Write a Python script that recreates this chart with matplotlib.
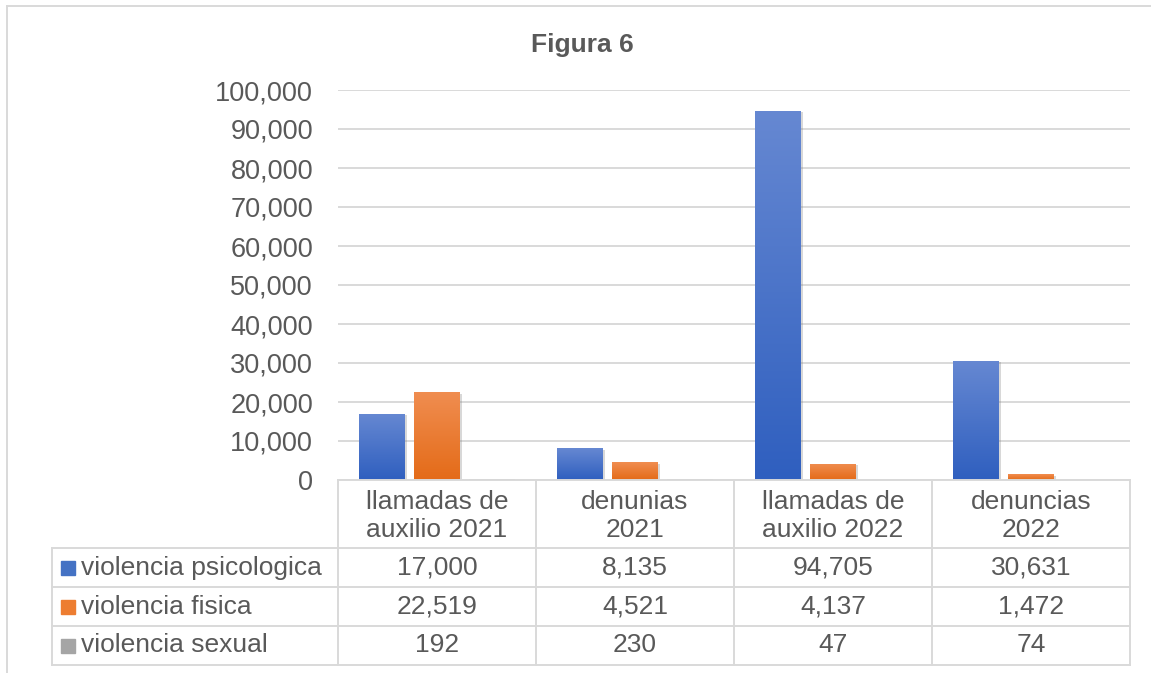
import numpy as np
import matplotlib
matplotlib.use("Agg")
import matplotlib.pyplot as plt
import matplotlib.patheffects as pe
from matplotlib.colors import LinearSegmentedColormap
from matplotlib.lines import Line2D
from matplotlib.patches import Rectangle
from matplotlib.ticker import FuncFormatter, MultipleLocator

plt.rcParams['font.family'] = ['Liberation Sans', 'DejaVu Sans']

# data
categories = ["llamadas de\nauxilio 2021", "denunias\n2021",
              "llamadas de\nauxilio 2022", "denuncias\n2022"]
series_names = ["violencia psicologica", "violencia fisica", "violencia sexual"]
psicologica = [17000, 8135, 94705, 30631]
fisica = [22519, 4521, 4137, 1472]
sexual = [192, 230, 47, 74]

series = [psicologica, fisica, sexual]
colors = ["#4472C4", "#ED7D31", "#A5A5A5"]
grad_colors = [("#2f5fbf", "#6688d2"), ("#e46b18", "#f08d50"), ("#8f8f8f", "#bdbdbd")]
text_color = "#595959"
line_color = "#d9d9d9"
fs = 19

W, H = 1151, 673
fig = plt.figure(figsize=(W / 100, H / 100), dpi=100)

# plot area (pixel layout of the original)
x0, x1, y_top, y_base = 338, 1130, 90, 480
ax = fig.add_axes([x0 / W, 1 - y_base / H, (x1 - x0) / W, (y_base - y_top) / H])

x = np.arange(len(categories))
bw, step = 0.228, 0.278
shadow = [pe.SimplePatchShadow(offset=(1.5, -1), shadow_rgbFace="#808080", alpha=0.3), pe.Normal()]
for i, vals in enumerate(series):
    bars = ax.bar(x + (i - 1) * step, vals, bw, color=colors[i], zorder=3)
    cmap = LinearSegmentedColormap.from_list("g%d" % i, grad_colors[i])
    for b in bars:
        b.set_path_effects(shadow)
        bx, by = b.get_x(), b.get_y()
        w, h = b.get_width(), b.get_height()
        grad = np.linspace(0, 1, 128).reshape(-1, 1)
        im = ax.imshow(grad, extent=[bx, bx + w, by, by + h], origin="lower",
                       aspect="auto", cmap=cmap, zorder=4)
        im.set_clip_path(b)

ax.set_xlim(-0.5, len(categories) - 0.5)
ax.set_ylim(0, 100000)
ax.yaxis.set_major_locator(MultipleLocator(10000))
ax.yaxis.set_major_formatter(FuncFormatter(lambda v, p: f"{v:,.0f}"))
ax.grid(axis="y", color=line_color, linewidth=1.4, zorder=0)
ax.set_xticks([])
ax.tick_params(axis="y", length=0, pad=18, labelsize=19.5, labelcolor=text_color)
for s in ["top", "right", "left"]:
    ax.spines[s].set_visible(False)
ax.spines["bottom"].set_color(line_color)
ax.spines["bottom"].set_linewidth(1.4)
ax.spines["bottom"].set_zorder(5)

# data table under the plot
tl, tb = 52, 665
col_w = (x1 - x0) / len(categories)
xl = -0.5 - (x0 - tl) / col_w
tax = fig.add_axes([tl / W, 1 - tb / H, (x1 - tl) / W, (tb - y_base) / H])
tax.set_xlim(xl, len(categories) - 0.5)
tax.set_ylim(tb - y_base, 0)
tax.axis("off")

head_h, row_h = 68, 39
row_lines = [head_h + k * row_h for k in range(len(series) + 1)]
for k in range(len(categories) + 1):
    tax.plot([k - 0.5, k - 0.5], [0, row_lines[-1]], color=line_color, lw=1.4, clip_on=False)
tax.plot([xl, xl], [head_h, row_lines[-1]], color=line_color, lw=1.4, clip_on=False)
for yy in row_lines:
    tax.plot([xl, len(categories) - 0.5], [yy, yy], color=line_color, lw=1.4, clip_on=False)

for j, cat in enumerate(categories):
    tax.text(j, head_h / 2 + 2, cat, ha="center", va="center", fontsize=fs,
             color=text_color, linespacing=1.25)

px = 1 / col_w
for i, (name, vals) in enumerate(zip(series_names, series)):
    yc = head_h + (i + 0.5) * row_h
    tax.add_patch(Rectangle((xl + 9 * px, yc - 7), 14 * px, 14, color=colors[i], clip_on=False))
    tax.text(xl + 29 * px, yc, name, ha="left", va="center", fontsize=fs, color=text_color)
    for j, v in enumerate(vals):
        tax.text(j, yc, f"{v:,}", ha="center", va="center", fontsize=fs, color=text_color)

# title and chart frame
fig.text(582 / W, 1 - 45 / H, "Figura 6", ha="center", va="center",
         fontsize=19, fontweight="bold", color=text_color)
fig.add_artist(Line2D([7 / W, 7 / W], [0, 1 - 6 / H], color=line_color, lw=1.4))
fig.add_artist(Line2D([7 / W, 1], [1 - 6 / H, 1 - 6 / H], color=line_color, lw=1.4))

fig.savefig("out.png", dpi=100, facecolor="white")
